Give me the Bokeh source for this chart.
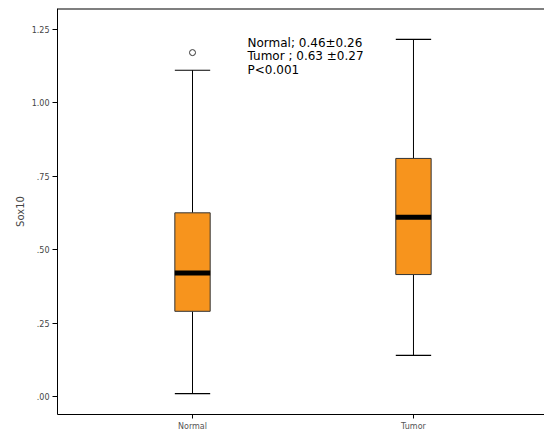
from bokeh.plotting import figure
from bokeh.models import LinearAxis, FixedTicker, Range1d, ColumnDataSource, Span
from bokeh.embed import file_html
from bokeh.resources import INLINE
from bokeh.core.properties import value

# Sox10 expression by tissue group (box-plot summaries)
categories = ["Normal", "Tumor"]
whisker_low = [0.01, 0.14]
q1 = [0.29, 0.415]
median = [0.42, 0.61]
q3 = [0.625, 0.81]
whisker_high = [1.11, 1.215]
outlier_y = [1.17]
outlier_group = [1]

y_ticks = [0.0, 0.25, 0.5, 0.75, 1.0, 1.25]
y_tick_labels = [".00", ".25", ".50", ".75", "1.00", "1.25"]

stats_lines = ["Normal; 0.46\u00b10.26", "Tumor ; 0.63 \u00b10.27", "P<0.001"]

xs = [i + 1 for i in range(len(categories))]
box_w = 0.16
cap_w = 0.16
y_top = 1.32

p = figure(width=544, height=439, output_backend="svg", toolbar_location=None,
           x_range=Range1d(0.389, 2.593), y_range=Range1d(-0.061, y_top),
           min_border_left=57, min_border_right=0, min_border_top=8, min_border_bottom=25,
           x_axis_location=None, y_axis_location=None)
p.background_fill_color = "white"
p.border_fill_color = "white"
p.outline_line_color = None
p.xgrid.grid_line_color = None
p.ygrid.grid_line_color = None

font = value("DejaVu Sans")

yax = LinearAxis(ticker=FixedTicker(ticks=y_ticks),
                 major_label_overrides={t: l for t, l in zip(y_ticks, y_tick_labels)})
yax.axis_label = "Sox10"
yax.axis_label_text_font_size = "7.5pt"
yax.axis_label_text_font_style = "normal"
yax.axis_label_text_font = "DejaVu Sans"
yax.axis_label_standoff = 3
yax.major_label_text_font_size = "6pt"
yax.major_label_text_font = "DejaVu Sans"
yax.major_label_text_color = "#444444"
yax.major_label_standoff = 3
yax.major_tick_out = 5
yax.major_tick_in = 0
yax.minor_tick_line_color = None
yax.axis_line_color = "black"
p.add_layout(yax, "left")

xax = LinearAxis(ticker=FixedTicker(ticks=xs),
                 major_label_overrides={x: c for x, c in zip(xs, categories)})
xax.major_label_text_font_size = "6pt"
xax.major_label_text_font = "DejaVu Sans"
xax.major_label_text_color = "#555555"
xax.major_label_standoff = 3
xax.major_tick_out = 4
xax.major_tick_in = 0
xax.minor_tick_line_color = None
xax.axis_line_color = "black"
p.add_layout(xax, "below")

# top border of the frame
p.add_layout(Span(location=y_top, dimension="width", line_color="black", line_width=2))

src = ColumnDataSource(dict(x=xs, lo=whisker_low, q1=q1, med=median, q3=q3, hi=whisker_high))

# whiskers and caps
p.segment(x0="x", y0="lo", x1="x", y1="q1", source=src, line_color="black", line_width=1)
p.segment(x0="x", y0="q3", x1="x", y1="hi", source=src, line_color="black", line_width=1)
p.rect(x="x", y="lo", width=cap_w, height=1.2, height_units="screen", source=src,
       fill_color="black", line_color=None)
p.rect(x="x", y="hi", width=cap_w, height=1.2, height_units="screen", source=src,
       fill_color="black", line_color=None)

# boxes
p.vbar(x="x", bottom="q1", top="q3", width=box_w, source=src,
       fill_color="#F7941D", line_color="#333333", line_width=1)
# medians
p.rect(x="x", y="med", width=box_w, height=5, height_units="screen", source=src,
       fill_color="black", line_color=None)

# outlier
p.scatter(x=outlier_group, y=outlier_y, marker="circle", size=6,
          fill_color=None, line_color="#333333", line_width=1)

# summary statistics
p.text(x=[1.249] * len(stats_lines), y=[1.228 - 0.047 * i for i in range(len(stats_lines))],
       text=stats_lines, text_font=font, text_font_size="9pt",
       text_baseline="top", text_align="left", text_color="black")

open("out.html", "w").write(file_html(p, INLINE))
